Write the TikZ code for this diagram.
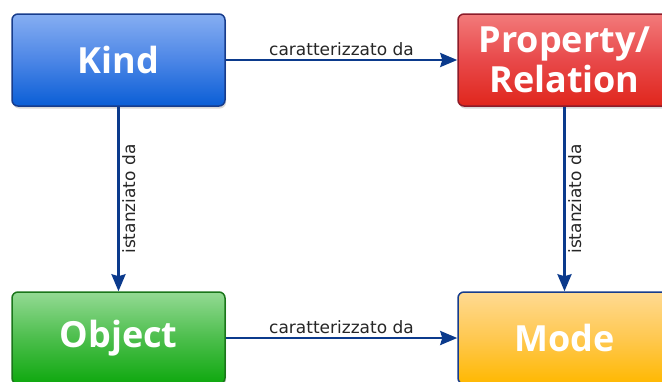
\documentclass[tikz,border=0pt]{standalone}
\usepackage{fontspec}
\setmainfont{DejaVu Sans}
\newfontfamily\boxfont{Open Sans}
\usetikzlibrary{arrows.meta,shadows}
\definecolor{arrowblue}{HTML}{0B3A8C}
\definecolor{kindtop}{HTML}{86AEF2}
\definecolor{kindmid}{HTML}{4C86E6}
\definecolor{kindbot}{HTML}{0A5ED6}
\definecolor{kindline}{HTML}{173C8C}
\definecolor{proptop}{HTML}{F27A7A}
\definecolor{propmid}{HTML}{E8494A}
\definecolor{propbot}{HTML}{E0261C}
\definecolor{propline}{HTML}{8C1C2A}
\definecolor{objtop}{HTML}{94DA94}
\definecolor{objmid}{HTML}{4CBE4C}
\definecolor{objbot}{HTML}{0EA80E}
\definecolor{objline}{HTML}{1A761A}
\definecolor{modetop}{HTML}{FFDA92}
\definecolor{modemid}{HTML}{FFC850}
\definecolor{modebot}{HTML}{FFB800}
\definecolor{modeline}{HTML}{173C8C}
\begin{document}
\begin{tikzpicture}[x=1pt,y=-1pt,
  box/.style={rectangle, rounded corners=6pt, minimum width=213pt,
    minimum height=92pt, line width=1.5pt, text=white, align=center,
    font=\boxfont\bfseries\fontsize{36}{40}\selectfont,
    drop shadow={opacity=0.3, shadow xshift=1pt, shadow yshift=-2.5pt}},
  kindbox/.style={box, draw=kindline, top color=kindtop, bottom color=kindbot, middle color=kindmid},
  propbox/.style={box, draw=propline, top color=proptop, bottom color=propbot, middle color=propmid},
  objbox/.style={box, draw=objline, top color=objtop, bottom color=objbot, middle color=objmid},
  modebox/.style={box, draw=modeline, top color=modetop, bottom color=modebot, middle color=modemid},
  conn/.style={draw=arrowblue, line width=2.6pt, -{Stealth[length=17pt,width=14pt,inset=2pt]}},
  lab/.style={font=\fontsize{17}{20}\selectfont, text=black!85, inner sep=2.5pt}
]
\useasboundingbox (0,0) rectangle (662,381);
\clip (0,0) rectangle (662,381);
\node[kindbox] (kind) at (118.5,60) {Kind};
\node[propbox] (prop) at (564.5,60) {Property/\\Relation};
\node[objbox] (obj) at (118.5,338) {Object};
\node[modebox] (mode) at (564.5,338) {Mode};
\draw[conn] (kind) -- node[lab, anchor=south] (l1) {caratterizzato da} (prop);
\draw[conn] (obj) -- node[lab, anchor=south] (l2) {caratterizzato da} (mode);
\draw[conn] (kind) -- node[lab, rotate=90, anchor=north] (l3) {istanziato da} (obj);
\draw[conn] (prop) -- node[lab, rotate=90, anchor=north] (l4) {istanziato da} (mode);
\end{tikzpicture}
\end{document}
